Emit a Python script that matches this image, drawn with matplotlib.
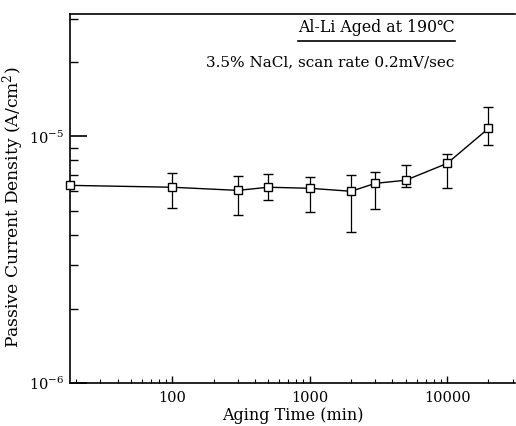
import matplotlib
matplotlib.use("Agg")
import matplotlib.pyplot as plt
from matplotlib.ticker import LogLocator, NullFormatter, FixedLocator, FixedFormatter

# aging time (min) and passive current density (A/cm^2)
aging_time = [18, 100, 300, 500, 1000, 2000, 3000, 5000, 10000, 20000]
density = [6.33e-6, 6.22e-6, 6.04e-6, 6.22e-6, 6.16e-6, 5.99e-6, 6.45e-6, 6.64e-6, 7.77e-6, 1.077e-5]
err_top = [6.33e-6, 7.08e-6, 6.89e-6, 7.02e-6, 6.83e-6, 6.95e-6, 7.15e-6, 7.63e-6, 8.45e-6, 1.31e-5]
err_bot = [6.33e-6, 5.11e-6, 4.79e-6, 5.51e-6, 4.92e-6, 4.09e-6, 5.06e-6, 6.22e-6, 6.16e-6, 9.2e-6]

x_ticks = [100, 1000, 10000]
x_labels = ["100", "1000", "10000"]
y_ticks = [1e-6, 1e-5]
y_labels = ["10$^{-6}$", "10$^{-5}$"]

plt.rcParams['font.family'] = ['DejaVu Serif', 'DejaVu Sans']
plt.rcParams['mathtext.fontset'] = 'dejavuserif'

fig = plt.figure(figsize=(5.16, 4.26), dpi=100)
ax = fig.add_axes([70 / 516, 1 - 383 / 426, 445 / 516, 369.5 / 426])

lower = [d - b for d, b in zip(density, err_bot)]
upper = [t - d for d, t in zip(density, err_top)]
ax.errorbar(aging_time[1:], density[1:], yerr=[lower[1:], upper[1:]], color='black',
            lw=1.0, elinewidth=0.9, capsize=3.5, capthick=1.0, fmt='none', zorder=2)
ax.plot(aging_time, density, color='black', lw=1.0,
        marker='s', markersize=6, markerfacecolor='white',
        markeredgecolor='black', markeredgewidth=1.0, zorder=3, clip_on=False)

ax.set_xscale('log')
ax.set_yscale('log')
ax.set_xlim(18, 31200)
ax.set_ylim(1e-6, 3.15e-5)

ax.spines['right'].set_visible(False)
for s in ['left', 'bottom', 'top']:
    ax.spines[s].set_linewidth(1.2)

ax.xaxis.set_major_locator(FixedLocator(x_ticks))
ax.xaxis.set_major_formatter(FixedFormatter(x_labels))
ax.xaxis.set_minor_locator(LogLocator(base=10, subs=range(2, 10)))
ax.xaxis.set_minor_formatter(NullFormatter())
ax.yaxis.set_major_locator(FixedLocator(y_ticks))
ax.yaxis.set_major_formatter(FixedFormatter(y_labels))
ax.yaxis.set_minor_locator(LogLocator(base=10, subs=range(2, 10)))
ax.yaxis.set_minor_formatter(NullFormatter())

ax.tick_params(axis='x', which='major', direction='in', length=5, width=1, labelsize=10.5, pad=6)
ax.tick_params(axis='x', which='minor', direction='in', length=3, width=0.8)
ax.tick_params(axis='y', which='major', direction='in', length=12, width=1.2, labelsize=10.5, pad=4)
ax.tick_params(axis='y', which='minor', direction='in', length=6, width=1)
ax.tick_params(top=False, right=False, which='both')

ax.set_xlabel('Aging Time (min)', fontsize=11.5, labelpad=1)
ax.set_ylabel('Passive Current Density (A/cm$^2$)', fontsize=12.3, va='center')
ax.yaxis.set_label_coords(-0.128, 0.476)

fig.text(376 / 516, 1 - 28 / 426, 'Al-Li Aged at 190\u2103', ha='center', va='center', fontsize=11.3)
fig.add_artist(plt.Line2D([298 / 516, 455 / 516], [1 - 41 / 426, 1 - 41 / 426],
                          color='black', lw=1.2))
fig.text(454 / 516, 1 - 62 / 426, '3.5% NaCl, scan rate 0.2mV/sec', ha='right', va='center', fontsize=11)

fig.savefig('out.png', dpi=100)
